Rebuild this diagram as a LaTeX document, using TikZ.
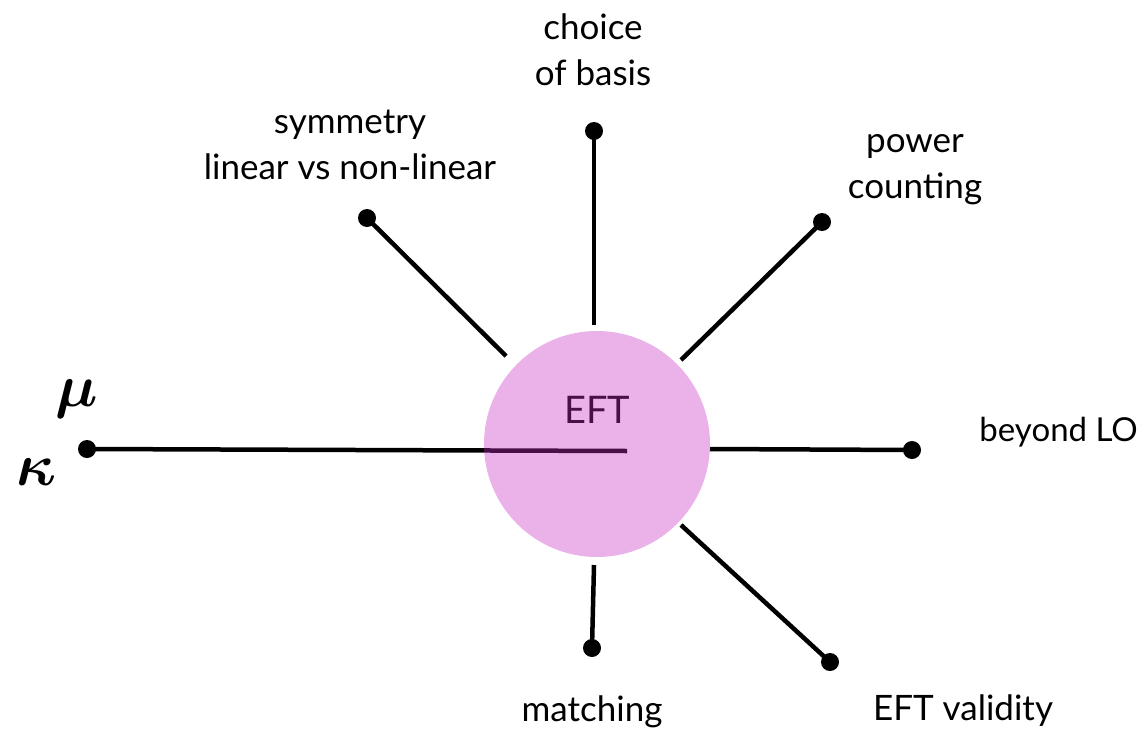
\documentclass[tikz,border=0pt]{standalone}
\usepackage{fontspec}
\usepackage{unicode-math}
\setmainfont{Lato}
\setmathfont{latinmodern-math.otf}
\begin{document}
\begin{tikzpicture}[x=1pt,y=-1pt,
  spoke/.style={line width=4.5pt},
  dotnode/.style={circle,fill=black,inner sep=0pt,minimum size=18pt},
  lbl/.style={font=\fontsize{35}{46}\selectfont,align=center,inner sep=0pt},
  greek/.style={font=\fontsize{60}{60}\selectfont,inner sep=0pt}]
\useasboundingbox (0,0) rectangle (1141,731);
% left spoke and EFT text (under circle)
\node[dotnode] (dmu) at (87,449) {};
\coordinate (cend) at (627,451);
\draw[spoke] (dmu.center) -- (cend);
\node[lbl,font=\fontsize{38}{46}\selectfont] (eft) at (597,410) {EFT};
\definecolor{blobc}{RGB}{200,43,195}
\node[circle,fill=blobc,fill opacity=0.37,minimum size=226pt,inner sep=0pt] (blob) at (597,444) {};
\node[greek] (mu) at (77,399) {$\symbfit{\mu}$};
\node[greek] (kap) at (37,472) {$\symbfit{\kappa}$};
% spokes
\node[dotnode] (dtop) at (594,131) {};
\coordinate (itop) at (594,325);
\draw[spoke] (dtop.center) -- (itop);
\node[dotnode] (dul) at (367,218) {};
\coordinate (iul) at (506,356);
\draw[spoke] (dul.center) -- (iul);
\node[dotnode] (dur) at (822,222) {};
\coordinate (iur) at (681,360);
\draw[spoke] (dur.center) -- (iur);
\node[dotnode] (dr) at (912,450) {};
\coordinate (ir) at (710,449);
\draw[spoke] (ir) -- (dr.center);
\node[dotnode] (dlr) at (830,662) {};
\coordinate (ilr) at (681,525);
\draw[spoke] (ilr) -- (dlr.center);
\node[dotnode] (db) at (592,648) {};
\coordinate (ib) at (594,565);
\draw[spoke] (ib) -- (db.center);
% labels
\node[lbl] (ltop) at (593,50) {choice\\of basis};
\node[lbl] (lul) at (350,145) {symmetry\\linear vs non-linear};
\node[lbl] (lur) at (915,170) {power\\counting};
\node[lbl,font=\fontsize{33}{46}\selectfont,anchor=east] (lr) at (1138,432) {beyond LO};
\node[lbl] (llr) at (963,711) {EFT validity};
\node[lbl] (lb) at (592,712) {matching};
\end{tikzpicture}
\end{document}
